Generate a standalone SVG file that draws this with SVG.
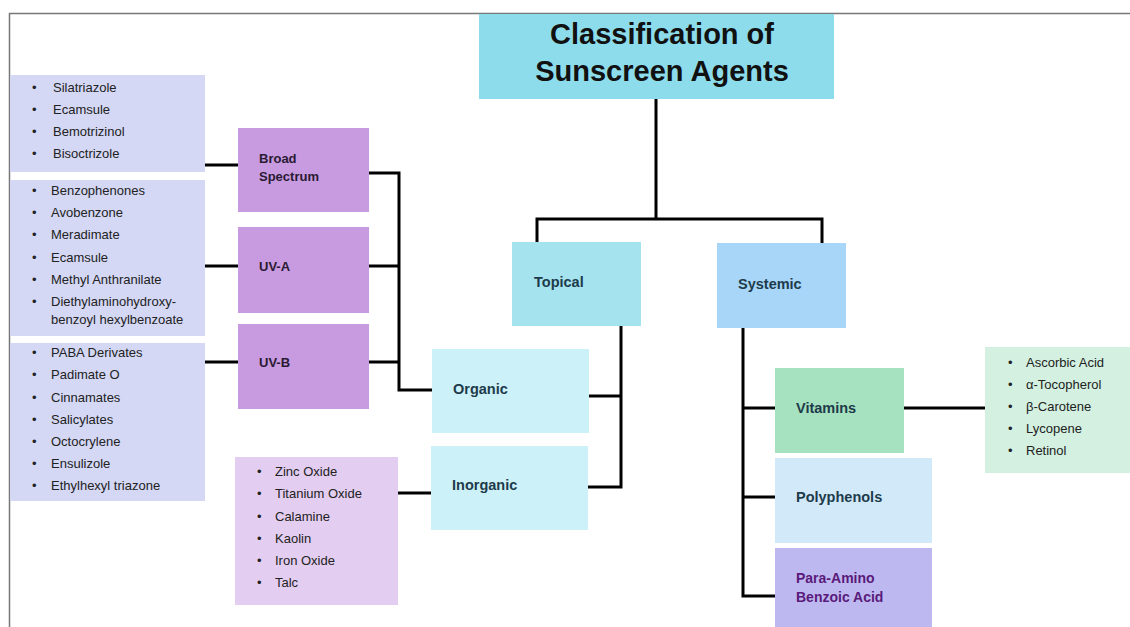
<svg xmlns="http://www.w3.org/2000/svg" width="1130" height="627" viewBox="0 0 1130 627">
<style>
text{font-family:"Liberation Sans",Arial,sans-serif}
.lbl{font-weight:bold;font-size:14.5px;fill:#1d3b4a}
.li{font-size:13px;fill:#222}
.conn{stroke:#000;stroke-width:3;fill:none;stroke-linecap:square}
</style>
<rect width="1130" height="627" fill="#fff"/>
<path d="M9.5 627 V13.5 H1130" fill="none" stroke="#777" stroke-width="1.5"/>
<g id="connectors">
<path class="conn" d="M656 99 V219 M537 241 V219 H822 V243"/>
<path class="conn" d="M621 326 V487 M590 396 H621 M588 487 H621"/>
<path class="conn" d="M369 173 H399 V390 H432 M369 266 H399 M369 362 H399"/>
<path class="conn" d="M205 165 H238 M205 266 H238 M205 362 H238"/>
<path class="conn" d="M398 493 H431"/>
<path class="conn" d="M743 328 V596 H775 M743 408 H775 M743 497 H775"/>
<path class="conn" d="M904 408 H985"/>
</g>
<g id="title">
<rect x="479" y="14" width="355" height="85" fill="#8ddcec"/>
<text x="662" y="44" text-anchor="middle" font-weight="bold" font-size="29" fill="#111">Classification of</text>
<text x="662" y="81" text-anchor="middle" font-weight="bold" font-size="29" fill="#111">Sunscreen Agents</text>
</g>
<g id="topical">
<rect x="512" y="242" width="129" height="84" fill="#a5e3ef"/>
<text class="lbl" x="534" y="287" font-size="16.5">Topical</text>
</g>
<g id="systemic">
<rect x="717" y="243" width="129" height="85" fill="#a8d6f8"/>
<text class="lbl" x="738" y="289" font-size="16.5">Systemic</text>
</g>
<g id="organic">
<rect x="432" y="349" width="157" height="84" fill="#cdf1f8"/>
<text class="lbl" x="453" y="394">Organic</text>
</g>
<g id="inorganic">
<rect x="431" y="446" width="157" height="84" fill="#cdf1f8"/>
<text class="lbl" x="452" y="490">Inorganic</text>
</g>
<g id="broad">
<rect x="238" y="128" width="131" height="84" fill="#c89be0"/>
<text x="259" y="163" font-weight="bold" font-size="13" fill="#2a1a33">Broad</text>
<text x="259" y="181" font-weight="bold" font-size="13" fill="#2a1a33">Spectrum</text>
</g>
<g id="uva">
<rect x="238" y="227" width="131" height="86" fill="#c89be0"/>
<text x="259" y="271" font-weight="bold" font-size="13" fill="#2a1a33">UV-A</text>
</g>
<g id="uvb">
<rect x="238" y="324" width="131" height="85" fill="#c89be0"/>
<text x="259" y="367" font-weight="bold" font-size="13" fill="#2a1a33">UV-B</text>
</g>
<g id="list-broad">
<rect x="10" y="75" width="195" height="97" fill="#d4d8f5"/>
<text class="li" x="32" y="92">•</text><text class="li" x="53" y="92">Silatriazole</text>
<text class="li" x="32" y="114">•</text><text class="li" x="53" y="114">Ecamsule</text>
<text class="li" x="32" y="136">•</text><text class="li" x="53" y="136">Bemotrizinol</text>
<text class="li" x="32" y="158">•</text><text class="li" x="53" y="158">Bisoctrizole</text>
</g>
<g id="list-uva">
<rect x="10" y="180" width="195" height="156" fill="#d4d8f5"/>
<text class="li" x="32" y="195">•</text><text class="li" x="51" y="195">Benzophenones</text>
<text class="li" x="32" y="217">•</text><text class="li" x="51" y="217">Avobenzone</text>
<text class="li" x="32" y="239">•</text><text class="li" x="51" y="239">Meradimate</text>
<text class="li" x="32" y="262">•</text><text class="li" x="51" y="262">Ecamsule</text>
<text class="li" x="32" y="284">•</text><text class="li" x="51" y="284">Methyl Anthranilate</text>
<text class="li" x="32" y="306">•</text><text class="li" x="51" y="306">Diethylaminohydroxy-</text>
<text class="li" x="51" y="324">benzoyl hexylbenzoate</text>
</g>
<g id="list-uvb">
<rect x="10" y="343" width="195" height="158" fill="#d4d8f5"/>
<text class="li" x="32" y="357">•</text><text class="li" x="51" y="357">PABA Derivates</text>
<text class="li" x="32" y="379">•</text><text class="li" x="51" y="379">Padimate O</text>
<text class="li" x="32" y="402">•</text><text class="li" x="51" y="402">Cinnamates</text>
<text class="li" x="32" y="424">•</text><text class="li" x="51" y="424">Salicylates</text>
<text class="li" x="32" y="446">•</text><text class="li" x="51" y="446">Octocrylene</text>
<text class="li" x="32" y="468">•</text><text class="li" x="51" y="468">Ensulizole</text>
<text class="li" x="32" y="490">•</text><text class="li" x="51" y="490">Ethylhexyl triazone</text>
</g>
<g id="list-inorganic">
<rect x="235" y="457" width="163" height="148" fill="#e3cdf0"/>
<text class="li" x="257" y="476">•</text><text class="li" x="275" y="476">Zinc Oxide</text>
<text class="li" x="257" y="498">•</text><text class="li" x="275" y="498">Titanium Oxide</text>
<text class="li" x="257" y="521">•</text><text class="li" x="275" y="521">Calamine</text>
<text class="li" x="257" y="543">•</text><text class="li" x="275" y="543">Kaolin</text>
<text class="li" x="257" y="565">•</text><text class="li" x="275" y="565">Iron Oxide</text>
<text class="li" x="257" y="587">•</text><text class="li" x="275" y="587">Talc</text>
</g>
<g id="vitamins">
<rect x="775" y="368" width="129" height="85" fill="#a6e2bf"/>
<text class="lbl" x="796" y="413" font-size="14" fill="#1b3a24">Vitamins</text>
</g>
<g id="polyphenols">
<rect x="775" y="458" width="157" height="85" fill="#d1e9f9"/>
<text class="lbl" x="796" y="502">Polyphenols</text>
</g>
<g id="paba">
<rect x="775" y="548" width="157" height="79" fill="#bdb9f0"/>
<text x="796" y="583" font-weight="bold" font-size="14" fill="#5a1a7a">Para-Amino</text>
<text x="796" y="602" font-weight="bold" font-size="14" fill="#5a1a7a">Benzoic Acid</text>
</g>
<g id="list-vitamins">
<rect x="985" y="347" width="145" height="126" fill="#d3f0e0"/>
<text class="li" x="1008" y="367">•</text><text class="li" x="1026" y="367" font-size="12.5">Ascorbic Acid</text>
<text class="li" x="1008" y="389">•</text><text class="li" x="1026" y="389" font-size="12.5">α-Tocopherol</text>
<text class="li" x="1008" y="411">•</text><text class="li" x="1026" y="411" font-size="12.5">β-Carotene</text>
<text class="li" x="1008" y="433">•</text><text class="li" x="1026" y="433" font-size="12.5">Lycopene</text>
<text class="li" x="1008" y="455">•</text><text class="li" x="1026" y="455" font-size="12.5">Retinol</text>
</g>
</svg>
